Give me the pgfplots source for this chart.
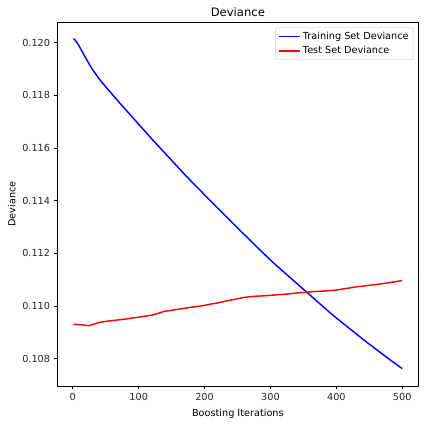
\documentclass[border=0pt]{standalone}
\usepackage{fontspec}
\setmainfont{DejaVu Sans}
\usepackage{pgfplots}
\pgfplotsset{compat=1.18}
\definecolor{legedge}{rgb}{0.8,0.8,0.8}
\begin{document}
\begin{tikzpicture}
\begin{axis}[
  width=361.7pt, height=364pt, scale only axis,
  xmin=-24, xmax=525, ymin=0.10697, ymax=0.12078,
  xtick={0,100,200,300,400,500},
  ytick={0.108,0.110,0.112,0.114,0.116,0.118,0.120},
  /pgf/number format/assume math mode=true,
  yticklabel style={/pgf/number format/fixed, /pgf/number format/fixed zerofill, /pgf/number format/precision=3},
  scaled y ticks=false,
  tick label style={font=\fontsize{9.7}{11.6}\selectfont, color=black!85},
  tick align=outside, major tick length=3.4pt,
  tick style={black, line width=0.8pt},
  xtick pos=bottom, ytick pos=left,
  axis line style={line width=0.8pt},
  title={Deviance},
  every axis title/.style={font=\fontsize{11.6}{14}\selectfont, anchor=base, at={(axis description cs:0.5,1)}, yshift=5.3pt, inner sep=0pt},
  xlabel={Boosting Iterations},
  ylabel={Deviance},
  xlabel style={font=\fontsize{9.7}{11.6}\selectfont, inner sep=0pt, anchor=north, at={(axis description cs:0.5,-0.0624)}},
  ylabel style={font=\fontsize{9.7}{11.6}\selectfont, inner sep=0pt, rotate=0, anchor=south, at={(axis description cs:-0.114,0.5)}},
  legend style={at={(1,1)}, anchor=north east, xshift=-5.4pt, yshift=-5.3pt,
    draw=legedge, fill=white, fill opacity=0.8, text opacity=1, rounded corners=2pt,
    font=\fontsize{9.7}{11.6}\selectfont, row sep=1.5pt, inner sep=2.5pt},
  legend cell align=left,
  legend image code/.code={\draw[#1] (0pt,0pt) -- (21.7pt,0pt);},
]
\addplot[blue, line width=1.45pt] coordinates {
(1,0.12015) (5,0.12005) (10,0.11985) (15,0.11962) (20,0.11940) (25,0.11918)
(30,0.11897) (35,0.11880) (40,0.11862) (50,0.11832) (60,0.11803) (70,0.11774)
(80,0.11746) (90,0.11718) (100,0.11690) (110,0.11662) (120,0.11634) (130,0.11607)
(140,0.11580) (150,0.11553) (160,0.11526) (170,0.11499) (180,0.11473) (190,0.11448)
(200,0.11422) (210,0.11397) (220,0.11372) (230,0.11347) (240,0.11322) (250,0.11297)
(260,0.11272) (270,0.11248) (280,0.11223) (290,0.11199) (300,0.11175) (310,0.11152)
(320,0.11130) (330,0.11108) (340,0.11086) (350,0.11064) (360,0.11042) (370,0.11020)
(380,0.10998) (390,0.10976) (400,0.10955) (410,0.10935) (420,0.10915) (430,0.10895)
(440,0.10875) (450,0.10856) (460,0.10837) (470,0.10818) (480,0.10799) (490,0.10781)
(500,0.10763)
};
\addlegendentry{Training Set Deviance}
\addplot[red, line width=1.45pt] coordinates {
(1,0.10931) (10,0.10930) (20,0.10927) (25,0.10926) (30,0.10930) (40,0.10938)
(50,0.10942) (60,0.10945) (70,0.10948) (80,0.10951) (90,0.10955) (100,0.10958)
(110,0.10962) (120,0.10966) (130,0.10973) (140,0.10981) (150,0.10984) (160,0.10988)
(170,0.10992) (180,0.10996) (190,0.10999) (200,0.11003) (210,0.11008) (220,0.11012)
(230,0.11018) (240,0.11023) (250,0.11028) (260,0.11033) (270,0.11036) (280,0.11038)
(290,0.11039) (300,0.11041) (310,0.11043) (320,0.11045) (330,0.11047) (340,0.11050)
(350,0.11052) (360,0.11054) (370,0.11056) (380,0.11057) (390,0.11059) (400,0.11061)
(410,0.11065) (420,0.11069) (430,0.11073) (440,0.11076) (450,0.11079) (460,0.11082)
(470,0.11085) (480,0.11089) (490,0.11093) (500,0.11097)
};
\addlegendentry{Test Set Deviance}
\end{axis}
\path ([shift={(-57pt,-38pt)}]current axis.south west) rectangle ([shift={(5.3pt,22pt)}]current axis.north east);
\end{tikzpicture}
\end{document}
